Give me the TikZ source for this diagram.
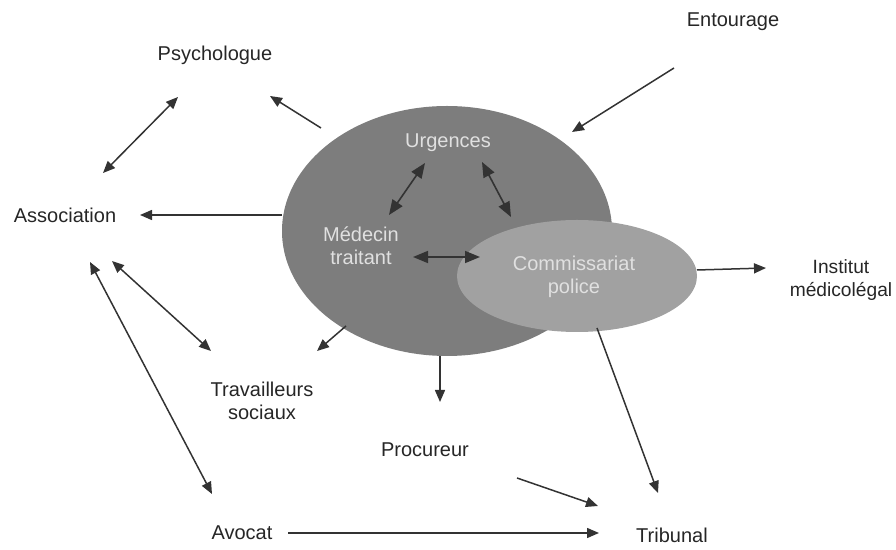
\documentclass[tikz,border=0pt]{standalone}
\usepackage{fontspec}
\setmainfont{Liberation Sans}
\usetikzlibrary{shapes.geometric,arrows.meta}

\begin{document}
\begin{tikzpicture}[x=0.5pt,y=-0.5pt,
  lbl/.style={font=\fontsize{10}{11.5}\selectfont, align=center, text=black!85, inner sep=0},
  inlbl/.style={lbl, text=white!88!black},
  tip/.tip={Triangle[length=6pt,width=5pt]},
  bigtip/.tip={Triangle[length=7.5pt,width=6pt]},
  link/.style={draw=black!80, line width=0.75pt, -tip},
  both/.style={draw=black!80, line width=0.75pt, tip-tip},
  inlink/.style={draw=black!80, line width=0.8pt, bigtip-bigtip}]
\useasboundingbox (0,0) rectangle (896,550);

% the two overlapping zones
\node[ellipse, fill=black!51, minimum width=165pt, minimum height=125pt, inner sep=0] (care) at (447,231) {};
\node[ellipse, fill=black!37, minimum width=120pt, minimum height=56pt, inner sep=0] (policezone) at (577,276) {};

% labels inside the zones
\node[inlbl] (urg) at (448,143) {Urgences};
\node[inlbl] (med) at (361,246) {Médecin\\traitant};
\node[inlbl] (com) at (574,277) {Commissariat\\police};

% outer labels
\node[lbl] (psy) at (215,55) {Psychologue};
\node[lbl] (ent) at (733,22) {Entourage};
\node[lbl] (asso) at (65,215) {Association};
\node[lbl, font=\fontsize{9.6}{11.5}\selectfont] (iml) at (841,280) {Institut\\médicolégal};
\node[lbl] (trav) at (262,401) {Travailleurs\\sociaux};
\node[lbl] (proc) at (425,450) {Procureur};
\node[lbl] (avo) at (242,533) {Avocat};
\node[lbl] (trib) at (672,535) {Tribunal};

% arrow end points
\coordinate (urgL) at (425,163);
\coordinate (medT) at (389,215);
\coordinate (urgR) at (482,162);
\coordinate (comT) at (511,217);
\coordinate (medR) at (413,257);
\coordinate (comL) at (480,257);

\coordinate (psyA) at (178,97);
\coordinate (assoA) at (103,173);
\coordinate (careNW) at (321,128);
\coordinate (psyB) at (270,96);
\coordinate (entA) at (674,68);
\coordinate (careNE) at (572,132);
\coordinate (careW) at (282,215);
\coordinate (assoB) at (140,215);
\coordinate (polE) at (697,270);
\coordinate (imlA) at (766,268);
\coordinate (careSW) at (346,326);
\coordinate (travA) at (317,351);
\coordinate (careS) at (440,356);
\coordinate (procA) at (440,402);
\coordinate (assoC) at (112,261);
\coordinate (travB) at (211,351);
\coordinate (assoD) at (90,262);
\coordinate (avoA) at (212,494);
\coordinate (polS) at (597,328);
\coordinate (tribA) at (658,493);
\coordinate (procB) at (517,478);
\coordinate (tribB) at (598,506);
\coordinate (avoB) at (288,533);
\coordinate (tribC) at (599,533);

% links between the zones
\draw[inlink] (urgL) -- (medT);
\draw[inlink] (urgR) -- (comT);
\draw[inlink] (medR) -- (comL);

% links to the outside
\draw[both] (psyA) -- (assoA);
\draw[link] (careNW) -- (psyB);
\draw[link] (entA) -- (careNE);
\draw[link] (careW) -- (assoB);
\draw[link] (polE) -- (imlA);
\draw[link] (careSW) -- (travA);
\draw[link] (careS) -- (procA);
\draw[both] (assoC) -- (travB);
\draw[both] (assoD) -- (avoA);
\draw[link] (polS) -- (tribA);
\draw[link] (procB) -- (tribB);
\draw[link] (avoB) -- (tribC);
\end{tikzpicture}
\end{document}
